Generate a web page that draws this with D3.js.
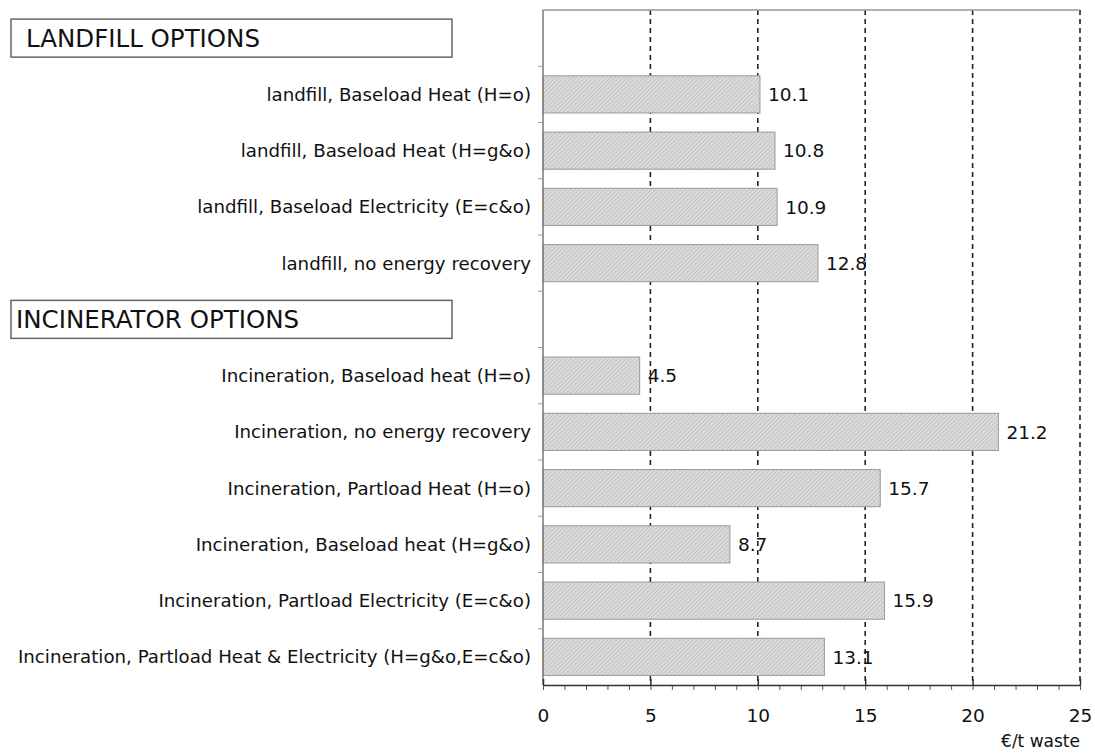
<!DOCTYPE html>
<html>
<head>
<meta charset="utf-8">
<script src="https://cdn.jsdelivr.net/npm/d3@7"></script>
<style>
  body { margin: 0; background: #fff; }
  svg text { font-family: "DejaVu Sans", sans-serif; fill: #111; }
</style>
</head>
<body>
<div id="chart"></div>
<script>
// rows from top to bottom, headers take a row of their own
var landfillHeader = 'LANDFILL OPTIONS'
var incineratorHeader = 'INCINERATOR OPTIONS'
var landfillCategories = [
  'landfill, Baseload Heat (H=o)',
  'landfill, Baseload Heat (H=g&o)',
  'landfill, Baseload Electricity (E=c&o)',
  'landfill, no energy recovery'
]
var landfillValues = [10.1, 10.8, 10.9, 12.8]
var incineratorCategories = [
  'Incineration, Baseload heat (H=o)',
  'Incineration, no energy recovery',
  'Incineration, Partload Heat (H=o)',
  'Incineration, Baseload heat (H=g&o)',
  'Incineration, Partload Electricity (E=c&o)',
  'Incineration, Partload Heat & Electricity (H=g&o,E=c&o)'
]
var incineratorValues = [4.5, 21.2, 15.7, 8.7, 15.9, 13.1]
var xTicks = [0, 5, 10, 15, 20, 25]
var unitLabel = '€/t waste'

;(function() {
  var rows = [landfillHeader].concat(landfillCategories, [incineratorHeader], incineratorCategories)
  var bars = landfillCategories.map(function(c, i) { return {cat: c, value: landfillValues[i]} })
    .concat(incineratorCategories.map(function(c, i) { return {cat: c, value: incineratorValues[i]} }))

  var width = 1095, height = 753
    , plotLeft = 543, plotRight = 1080, plotTop = 10, plotBottom = 685

  var svg = d3.select('#chart').append('svg')
    .attr('width', width)
    .attr('height', height)

  var x = d3.scaleLinear().domain([0, 25]).range([plotLeft, plotRight])
  var y = d3.scaleBand().domain(rows).range([plotTop, plotBottom]).paddingInner(0.34).paddingOuter(0.17)

  // hatch fill for bars
  var pattern = svg.append('defs').append('pattern')
    .attr('id', 'hatch')
    .attr('patternUnits', 'userSpaceOnUse')
    .attr('width', 3).attr('height', 3)
    .attr('patternTransform', 'rotate(45)')
  pattern.append('rect').attr('width', 3).attr('height', 3).attr('fill', '#dcdcdc')
  pattern.append('line').attr('x1', 0).attr('y1', 0).attr('x2', 0).attr('y2', 3)
    .attr('stroke', '#a9a9a9').attr('stroke-width', 1)

  // dashed grid
  svg.selectAll('line.grid').data(xTicks.slice(1)).enter().append('line')
    .attr('class', 'grid')
    .attr('x1', function(d) { return x(d) }).attr('x2', function(d) { return x(d) })
    .attr('y1', plotTop).attr('y2', plotBottom)
    .attr('stroke', '#222').attr('stroke-width', 1.6)
    .attr('stroke-dasharray', '5,4')

  // top frame line
  svg.append('line')
    .attr('x1', plotLeft).attr('x2', plotRight).attr('y1', plotTop).attr('y2', plotTop)
    .attr('stroke', '#999').attr('stroke-width', 1.5)

  // bars
  svg.selectAll('rect.bar').data(bars).enter().append('rect')
    .attr('class', 'bar')
    .attr('x', x(0))
    .attr('y', function(d) { return y(d.cat) })
    .attr('width', function(d) { return x(d.value) - x(0) })
    .attr('height', y.bandwidth())
    .attr('fill', 'url(#hatch)')
    .attr('stroke', '#999').attr('stroke-width', 1)

  // value labels
  svg.selectAll('text.val').data(bars).enter().append('text')
    .attr('class', 'val')
    .attr('x', function(d) { return x(d.value) + 8 })
    .attr('y', function(d) { return y(d.cat) + y.bandwidth() / 2 })
    .attr('dy', '0.36em')
    .style('font-size', '18.5px')
    .text(function(d) { return d.value.toFixed(1) })

  // category labels
  svg.selectAll('text.cat').data(bars).enter().append('text')
    .attr('class', 'cat')
    .attr('x', 531)
    .attr('y', function(d) { return y(d.cat) + y.bandwidth() / 2 })
    .attr('dy', '0.36em')
    .attr('text-anchor', 'end')
    .style('font-size', '18.2px')
    .text(function(d) { return d.cat })

  // header boxes
  var headers = svg.selectAll('g.header').data([landfillHeader, incineratorHeader]).enter().append('g')
    .attr('class', 'header')
  headers.append('rect')
    .attr('x', 11).attr('width', 441)
    .attr('y', function(d) { return y(d) + y.bandwidth() / 2 - 19 })
    .attr('height', 38)
    .attr('fill', '#fff').attr('stroke', '#666').attr('stroke-width', 1.5)
  headers.append('text')
    .attr('x', function(d, i) { return i === 0 ? 26 : 16 })
    .attr('y', function(d) { return y(d) + y.bandwidth() / 2 })
    .attr('dy', '0.36em')
    .style('font-size', '24.5px')
    .text(function(d) { return d })

  // left axis with ticks between rows
  var rowEdges = rows.map(function(r) { return y(r) - y.step() * y.paddingInner() / 2 }).slice(1)
  svg.append('line')
    .attr('x1', plotLeft).attr('x2', plotLeft).attr('y1', plotTop).attr('y2', plotBottom)
    .attr('stroke', '#777').attr('stroke-width', 1.5)
  svg.selectAll('line.ytick').data(rowEdges).enter().append('line')
    .attr('class', 'ytick')
    .attr('x1', plotLeft - 5).attr('x2', plotLeft)
    .attr('y1', function(d) { return d }).attr('y2', function(d) { return d })
    .attr('stroke', '#999')

  // bottom axis: minor ticks below, majors both sides
  var minor = d3.axisBottom(x).tickValues(d3.range(0, 26)).tickSize(5).tickFormat('')
  var major = d3.axisBottom(x).tickValues(xTicks).tickSizeInner(-6).tickSizeOuter(0).tickPadding(24)
  svg.append('g').attr('transform', 'translate(0,' + plotBottom + ')').call(minor)
    .call(function(g) { g.select('.domain').remove() })
    .selectAll('line').attr('stroke', '#555')
  var gx = svg.append('g').attr('transform', 'translate(0,' + plotBottom + ')').call(major)
  gx.select('.domain').attr('stroke', '#333').attr('stroke-width', 1.5)
  gx.selectAll('line').attr('stroke', '#333').attr('stroke-width', 1.5)
  gx.selectAll('text').style('font-size', '18.5px').style('font-family', '"DejaVu Sans", sans-serif').attr('fill', '#111')

  svg.append('text')
    .attr('x', plotRight).attr('y', 747)
    .attr('text-anchor', 'end')
    .style('font-size', '17px')
    .text(unitLabel)
})()
</script>
</body>
</html>
